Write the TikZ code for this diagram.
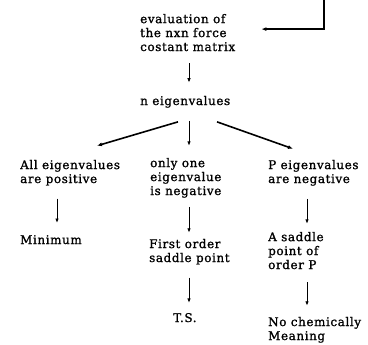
\documentclass[tikz,border=0pt]{standalone}
\usepackage{fontspec}
\setmainfont{DejaVu Serif}[LetterSpace=5, FakeBold=1.2]
\usepackage{tikz}
\usetikzlibrary{calc, positioning, arrows.meta}
\tikzset{
    stage/.style={align=left, inner sep=0pt, anchor=base west, font=\fontsize{12}{14}\selectfont},
    arrow/.style={-{Latex[length=4.5bp, width=3.5bp]}, line width=0.9bp},
    branch/.style={-{Latex[length=5bp, width=4bp]}, line width=1.6bp}
}

\begin{document}
\begin{tikzpicture}[x=1bp, y=-1bp]
        \useasboundingbox (0,0) rectangle (368,345);

        % Evaluation and eigenvalues (placed at the baseline of the last line)
        \node[stage] (eval) at (140,51) {evaluation of\\the nxn force\\costant matrix};
        \node[stage] (eig) at (140,105) {n eigenvalues};

        % Three cases
        \node[stage] (allpos) at (20,183) {All eigenvalues\\are positive};
        \node[stage] (onlyneg) at (150,195) {only one\\eigenvalue\\is negative};
        \node[stage] (pneg) at (268,183) {P eigenvalues\\are negative};

        % Results
        \node[stage] (minimum) at (20,244) {Minimum};
        \node[stage] (firstorder) at (149,262) {First order\\saddle point};
        \node[stage] (ts) at (173,322) {T.S.};
        \node[stage] (saddle) at (268,269) {A saddle\\point of\\order P};
        \node[stage] (nochem) at (268,340) {No chemically\\Meaning};

        % Columns for the vertical arrows
        \coordinate (colA) at (57,0);
        \coordinate (colB) at (189,0);
        \coordinate (colC) at (307,0);
        \coordinate (feed) at (324,0);

        % Feedback line from above
        \draw[branch, line width=1.4bp] (feed) |- ([xshift=26bp, yshift=3.5bp]eval.east);

        \draw[arrow, shorten <=12bp, shorten >=13bp] (eval.south -| colB) -- (eig.north -| colB);

        % Branches
        \draw[branch] ([xshift=38bp, yshift=-14bp]eig.south west) -- ([xshift=77bp, yshift=14bp]allpos.north west);
        \draw[arrow, shorten <=13bp, shorten >=12bp] (eig.south -| colB) -- (onlyneg.north -| colB);
        \draw[branch] ([xshift=77bp, yshift=-14bp]eig.south west) -- ([xshift=25bp, yshift=11bp]pneg.north west);

        \draw[arrow, shorten <=13bp, shorten >=12bp] (allpos.south -| colA) -- (minimum.north -| colA);
        \draw[arrow, shorten <=9bp, shorten >=6bp] (onlyneg.south -| colB) -- (firstorder.north -| colB);
        \draw[arrow, shorten <=13bp, shorten >=10bp] (firstorder.south -| colB) -- (ts.north -| colB);
        \draw[arrow, shorten <=13bp, shorten >=8bp] (pneg.south -| colC) -- (saddle.north -| colC);
        \draw[arrow, shorten <=13bp, shorten >=11bp] (saddle.south -| colC) -- (nochem.north -| colC);
\end{tikzpicture}
\end{document}
